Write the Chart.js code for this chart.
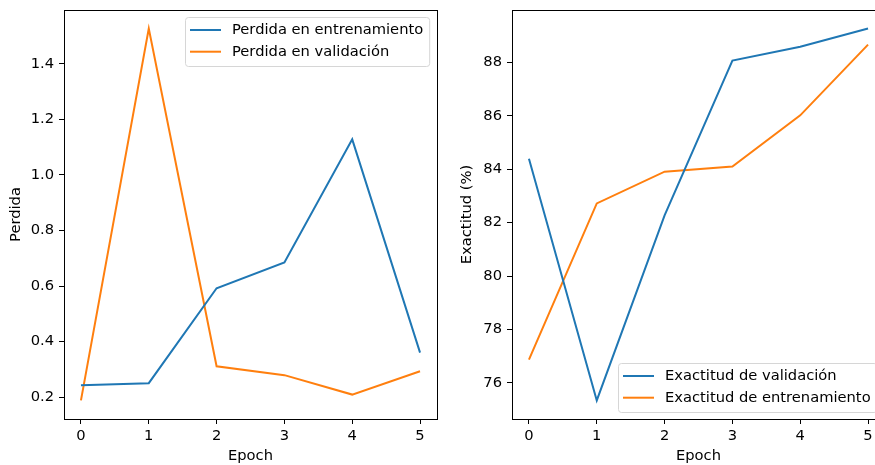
<!DOCTYPE html>
<html>
<head>
<meta charset="utf-8">
<script src="https://cdn.jsdelivr.net/npm/chart.js@4/dist/chart.umd.min.js"></script>
<style>
html,body{margin:0;padding:0;background:#fff;overflow:hidden;width:875px;height:465px;position:relative}
.box{position:absolute;top:0;height:465px}
#left{left:0;width:440px}
#right{left:440px;width:460px}
</style>
</head>
<body>
<div class="box" id="left"><canvas id="chartLoss" width="440" height="465"></canvas></div>
<div class="box" id="right"><canvas id="chartAcc" width="460" height="465"></canvas></div>
<script>
// data
const epochs = [0, 1, 2, 3, 4, 5];
const trainLoss = [0.243, 0.250, 0.592, 0.685, 1.128, 0.360];
const valLoss = [0.188, 1.527, 0.311, 0.279, 0.209, 0.293];
const valAcc = [84.39, 75.34, 82.27, 88.07, 88.59, 89.27];
const trainAcc = [76.87, 82.72, 83.91, 84.10, 86.02, 88.67];

const xTicks = [0, 1, 2, 3, 4, 5];
const lossTicks = [0.2, 0.4, 0.6, 0.8, 1.0, 1.2, 1.4];
const accTicks = [76, 78, 80, 82, 84, 86, 88];

const BLUE = '#1f77b4';
const ORANGE = '#ff7f0e';
const FONT = '"DejaVu Sans", sans-serif';
const FSIZE = 14.7;

Chart.defaults.font.family = FONT;
Chart.defaults.font.size = FSIZE;
Chart.defaults.color = '#000';

function points(ys){
    return epochs.map((e, i) => ({x: e, y: ys[i]}));
}

// matplotlib-like 5% margins
function limits(arrs){
    const all = [].concat(...arrs);
    const lo = Math.min(...all), hi = Math.max(...all);
    const m = (hi - lo) * 0.05;
    return [lo - m, hi + m];
}

function line(label, ys, color){
    return {
        label: label,
        data: points(ys),
        borderColor: color,
        backgroundColor: color,
        borderWidth: 2,
        pointRadius: 0,
        tension: 0,
        fill: false
    };
}

const framePlugin = {
    id: 'frame',
    afterDraw(chart){
        const a = chart.chartArea, c = chart.ctx;
        c.save();
        c.strokeStyle = '#000';
        c.lineWidth = 1;
        const x0 = Math.floor(a.left) + 0.5, y0 = Math.floor(a.top) + 0.5;
        const x1 = Math.floor(a.right) + 0.5, y1 = Math.floor(a.bottom) + 0.5;
        c.strokeRect(x0, y0, x1 - x0, y1 - y0);
        c.restore();
    }
};

const boxLegend = {
    id: 'boxLegend',
    afterDatasetsDraw(chart, args, opts){
        const a = chart.chartArea, c = chart.ctx;
        const sets = chart.data.datasets;
        c.save();
        c.font = FSIZE + 'px ' + FONT;
        const tw = Math.max(...sets.map(d => c.measureText(d.label).width));
        const w = 47 + tw + 6, h = 49;
        const x = Math.round(a.right - 8 - w);
        const y = opts.loc === 'upper' ? Math.round(a.top + 7) : Math.round(a.bottom - 7 - h);
        c.beginPath();
        c.roundRect(x + 0.5, y + 0.5, w, h, 3);
        c.fillStyle = 'rgba(255,255,255,0.8)';
        c.fill();
        c.strokeStyle = '#d6d6d6';
        c.lineWidth = 1;
        c.stroke();
        sets.forEach((d, i) => {
            const cy = y + 13 + i * 21.7;
            c.strokeStyle = d.borderColor;
            c.lineWidth = 2;
            c.beginPath();
            c.moveTo(x + 5, cy);
            c.lineTo(x + 36, cy);
            c.stroke();
            c.fillStyle = '#000';
            c.textBaseline = 'middle';
            c.textAlign = 'left';
            c.fillText(d.label, x + 47, cy);
        });
        c.restore();
    }
};

function makeOptions(yLim, yTicks, yTitle, fmt, yWidth, titlePad, padRight, loc){
    const tickGrid = {display: true, drawOnChartArea: false, drawTicks: true, tickLength: 5, color: '#000', lineWidth: 1};
    return {
        responsive: false,
        animation: false,
        layout: {padding: {top: 10, right: padRight, left: 0, bottom: 0}},
        plugins: {
            legend: {display: false},
            tooltip: {enabled: false},
            boxLegend: {loc: loc}
        },
        scales: {
            x: {
                type: 'linear',
                min: -0.25,
                max: 5.25,
                grid: tickGrid,
                border: {display: false},
                ticks: {padding: 3, color: '#000', maxRotation: 0},
                afterBuildTicks: s => { s.ticks = xTicks.map(v => ({value: v})); },
                afterFit: s => { s.height = 46; s.paddingLeft = 0; s.paddingRight = 0; },
                title: {display: true, text: 'Epoch', color: '#000', padding: {top: 0, bottom: 0}}
            },
            y: {
                min: yLim[0],
                max: yLim[1],
                grid: tickGrid,
                border: {display: false},
                ticks: {padding: 5, color: '#000', callback: fmt},
                afterBuildTicks: s => { s.ticks = yTicks.map(v => ({value: v})); },
                afterFit: s => { s.width = yWidth; s.paddingTop = 0; s.paddingBottom = 0; },
                title: {display: true, text: yTitle, color: '#000', padding: {top: titlePad, bottom: 0}}
            }
        }
    };
}

new Chart(document.getElementById('chartLoss').getContext('2d'), {
    type: 'line',
    data: {
        datasets: [
            line('Perdida en entrenamiento', trainLoss, BLUE),
            line('Perdida en validación', valLoss, ORANGE)
        ]
    },
    options: makeOptions(limits([trainLoss, valLoss]), lossTicks, 'Perdida', v => v.toFixed(1), 64, 7.2, 3, 'upper'),
    plugins: [boxLegend, framePlugin]
});

new Chart(document.getElementById('chartAcc').getContext('2d'), {
    type: 'line',
    data: {
        datasets: [
            line('Exactitud de validación', valAcc, BLUE),
            line('Exactitud de entrenamiento', trainAcc, ORANGE)
        ]
    },
    options: makeOptions(limits([valAcc, trainAcc]), accTicks, 'Exactitud (%)', v => v.toFixed(0), 72, 18.5, 15, 'lower'),
    plugins: [boxLegend, framePlugin]
});
</script>
</body>
</html>
